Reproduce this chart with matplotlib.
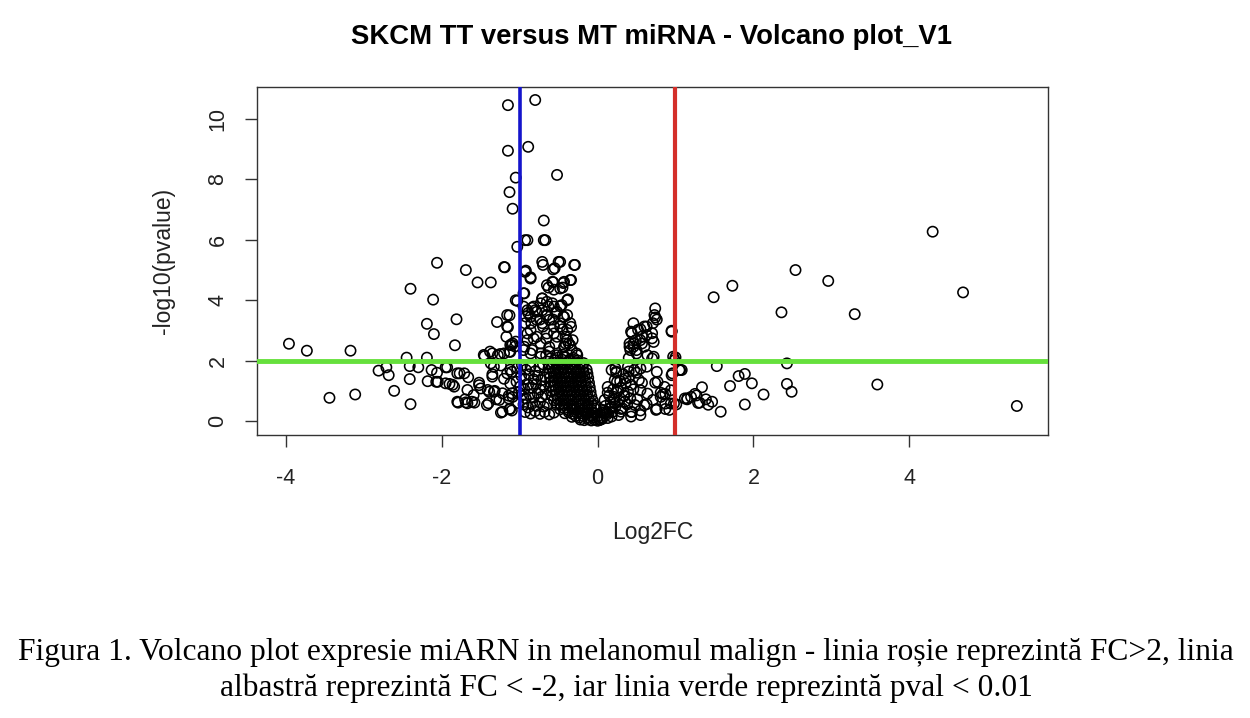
import numpy as np
import matplotlib
matplotlib.use("Agg")
import matplotlib.pyplot as plt

plt.rcParams['font.family'] = ['Liberation Sans', 'DejaVu Sans']
plt.rcParams['axes.unicode_minus'] = False

# points: (log2FC, -log10(pvalue))
far_left = [
    (-3.96, 2.56), (-3.73, 2.33), (-3.17, 2.33), (-3.44, 0.77), (-3.11, 0.88),
    (-2.81, 1.67), (-2.71, 1.78), (-2.68, 1.52), (-2.61, 1.00),
    (-2.45, 2.10), (-2.41, 1.82), (-2.41, 1.39), (-2.40, 0.56), (-2.40, 4.38),
    (-2.30, 1.78), (-2.19, 3.22), (-2.19, 2.10), (-2.18, 1.32), (-2.13, 1.69),
    (-2.11, 4.02), (-2.10, 2.88), (-2.07, 1.30), (-2.06, 5.24), (-2.06, 1.60),
    (-2.05, 1.30), (-1.95, 1.25), (-1.95, 1.78), (-1.93, 1.78), (-1.90, 1.23),
    (-1.86, 1.20), (-1.84, 1.14), (-1.83, 2.51), (-1.81, 3.37), (-1.80, 1.58),
    (-1.80, 0.64), (-1.79, 0.61), (-1.77, 1.58), (-1.71, 1.58), (-1.70, 0.72),
    (-1.69, 0.62), (-1.69, 5.00), (-1.67, 1.03), (-1.67, 0.59), (-1.66, 1.45),
    (-1.61, 0.64), (-1.59, 0.86), (-1.58, 0.61), (-1.54, 4.59), (-1.52, 1.27),
    (-1.52, 1.19), (-1.50, 1.08), (-1.46, 2.19), (-1.45, 2.15), (-1.42, 0.53),
    (-1.41, 1.03), (-1.40, 0.59), (-1.39, 0.97), (-1.38, 2.30), (-1.37, 4.59),
    (-1.37, 1.91), (-1.35, 1.55), (-1.35, 1.47), (-1.35, 2.24), (-1.33, 0.97),
    (-1.33, 1.80), (-1.32, 1.00), (-1.30, 0.72), (-1.29, 3.28), (-1.28, 2.18),
    (-1.26, 0.70), (-1.25, 2.22), (-1.24, 1.84), (-1.24, 0.28), (-1.22, 0.92),
    (-1.22, 0.31), (-1.20, 2.24), (-1.20, 1.40), (-1.20, 5.10), (-1.19, 5.09),
    (-1.17, 2.79), (-1.16, 1.58), (-1.16, 3.51), (-1.16, 3.13), (-1.15, 3.11),
    (-1.15, 10.46), (-1.15, 8.95), (-1.14, 0.84), (-1.14, 0.75), (-1.13, 7.58),
    (-1.13, 3.50), (-1.13, 0.40), (-1.13, 2.30), (-1.12, 1.70), (-1.12, 2.29),
    (-1.12, 1.24), (-1.12, 0.40), (-1.12, 2.52), (-1.10, 1.63), (-1.10, 0.92),
    (-1.10, 0.35), (-1.10, 2.52), (-1.09, 2.57), (-1.09, 0.80), (-1.09, 7.03),
    (-1.06, 2.47), (-1.05, 8.06), (-1.05, 2.63), (-1.05, 4.00), (-1.03, 5.77),
    (-1.03, 3.98), (-1.02, 0.60), (-1.04, 1.30), (-1.01, 0.95), (-1.03, 1.75),
]

upper_mid = [
    (-0.80, 10.63), (-0.89, 9.08), (-0.52, 8.15), (-0.69, 6.64), (-0.67, 5.99),
    (-0.93, 5.99), (-0.69, 5.99), (-0.71, 5.27), (-0.70, 5.17), (-0.50, 5.27),
    (-0.55, 5.06), (-0.30, 5.17), (-0.48, 5.27), (-0.57, 5.02), (-0.93, 4.94),
    (-0.86, 4.72), (-0.65, 4.50), (-0.58, 4.61), (-0.48, 4.39), (-0.44, 4.57),
    (-0.35, 4.67), (-0.43, 4.61), (-0.95, 4.23), (-0.71, 4.06), (-0.65, 3.95),
    (-0.56, 3.79), (-0.39, 4.00), (-0.63, 4.42), (-0.56, 4.35), (-0.45, 4.42),
    (-0.38, 4.03), (-0.90, 3.67), (-0.82, 3.79), (-0.92, 3.46), (-0.78, 3.62),
    (-0.71, 3.67), (-0.65, 3.51), (-0.52, 3.62), (-0.44, 3.46), (-0.85, 3.24),
    (-0.71, 3.24), (-0.56, 3.13), (-0.48, 3.24), (-0.39, 3.02), (-0.90, 2.90),
    (-0.78, 2.79), (-0.65, 2.90), (-0.52, 2.79), (-0.39, 2.68), (-0.35, 2.51),
    (-0.42, 2.46), (-0.95, 3.79), (-0.89, 3.58), (-0.84, 3.75), (-0.73, 3.90),
    (-0.63, 3.79), (-0.54, 3.58), (-0.46, 3.84), (-0.39, 3.51), (-0.35, 3.24),
    (-0.93, 3.24), (-0.86, 3.01), (-0.78, 3.35), (-0.70, 3.13), (-0.62, 3.35),
    (-0.56, 2.90), (-0.48, 3.13), (-0.41, 2.79), (-0.37, 2.57), (-0.43, 2.46),
    (-0.33, 2.35), (-0.90, 2.68), (-0.82, 2.73), (-0.73, 2.57), (-0.66, 2.73),
    (-0.62, 2.46), (-0.54, 2.57), (-0.27, 2.24), (-0.84, 2.35), (-0.73, 2.24),
    (-0.66, 2.18), (-0.52, 2.18), (-0.43, 2.13), (-0.95, 2.35), (-0.34, 3.12),
    (-0.45, 3.04), (-0.41, 2.57), (-0.32, 2.68), (-0.26, 2.18), (-0.86, 2.24),
    (-0.73, 2.13), (-0.62, 2.30), (-0.45, 2.20), (-0.94, 2.46), (-0.29, 5.17),
    (-0.86, 4.76), (-0.92, 4.98), (-0.80, 3.67), (-0.65, 3.50), (-0.57, 3.36),
    (-0.74, 3.36), (-0.86, 3.45), (-0.43, 3.45), (-0.58, 3.90), (-0.48, 3.80),
    (-0.94, 4.23), (-0.71, 4.06), (-0.34, 4.67), (-0.57, 4.60), (-0.90, 5.99),
]

between_blue_and_mass = [
    (-0.97, 1.85), (-0.92, 1.70), (-0.86, 1.80), (-0.80, 1.65), (-0.75, 1.78),
    (-0.70, 1.88), (-0.98, 1.50), (-0.93, 1.40), (-0.88, 1.55), (-0.82, 1.38),
    (-0.77, 1.50), (-0.72, 1.35), (-0.67, 1.45), (-0.99, 1.15), (-0.94, 1.05),
    (-0.89, 1.20), (-0.84, 1.10), (-0.79, 1.22), (-0.74, 1.05), (-0.69, 1.15),
    (-0.97, 0.85), (-0.92, 0.75), (-0.87, 0.88), (-0.82, 0.78), (-0.77, 0.92),
    (-0.72, 0.80), (-0.67, 0.88), (-0.95, 0.55), (-0.89, 0.45), (-0.84, 0.58),
    (-0.79, 0.50), (-0.74, 0.62), (-0.69, 0.48), (-0.64, 0.56), (-0.93, 0.30),
    (-0.86, 0.25), (-0.80, 0.33), (-0.74, 0.24), (-0.68, 0.30), (-0.62, 0.22),
    (-0.56, 0.28),
]

dense_mass = [
    (-0.60, 2.08), (-0.55, 2.02), (-0.51, 2.10), (-0.46, 2.04), (-0.41, 2.11),
    (-0.36, 2.03), (-0.31, 2.09), (-0.26, 2.01),
    (-0.62, 1.88), (-0.57, 1.93), (-0.52, 1.86), (-0.47, 1.92), (-0.43, 1.87),
    (-0.38, 1.94), (-0.33, 1.89), (-0.28, 1.95), (-0.23, 1.88), (-0.18, 1.92),
    (-0.63, 1.74), (-0.59, 1.78), (-0.54, 1.72), (-0.49, 1.77), (-0.44, 1.71),
    (-0.39, 1.76), (-0.34, 1.73), (-0.29, 1.79), (-0.24, 1.72), (-0.19, 1.76),
    (-0.14, 1.70),
    (-0.62, 1.58), (-0.57, 1.62), (-0.53, 1.57), (-0.48, 1.63), (-0.43, 1.59),
    (-0.38, 1.61), (-0.33, 1.56), (-0.28, 1.62), (-0.23, 1.58), (-0.18, 1.63),
    (-0.13, 1.57),
    (-0.61, 1.44), (-0.56, 1.47), (-0.52, 1.42), (-0.47, 1.48), (-0.42, 1.43),
    (-0.37, 1.46), (-0.32, 1.41), (-0.27, 1.47), (-0.22, 1.44), (-0.17, 1.49),
    (-0.12, 1.43),
    (-0.61, 1.29), (-0.56, 1.33), (-0.51, 1.27), (-0.46, 1.32), (-0.41, 1.28),
    (-0.36, 1.31), (-0.31, 1.26), (-0.26, 1.33), (-0.21, 1.29), (-0.16, 1.32),
    (-0.11, 1.27),
    (-0.60, 1.14), (-0.55, 1.18), (-0.50, 1.12), (-0.45, 1.17), (-0.40, 1.13),
    (-0.35, 1.16), (-0.30, 1.11), (-0.25, 1.18), (-0.20, 1.14), (-0.15, 1.17),
    (-0.10, 1.12),
    (-0.59, 0.99), (-0.54, 1.03), (-0.49, 0.97), (-0.44, 1.02), (-0.39, 0.98),
    (-0.34, 1.01), (-0.29, 0.96), (-0.24, 1.03), (-0.19, 0.99), (-0.14, 1.02),
    (-0.09, 0.97),
    (-0.58, 0.84), (-0.53, 0.88), (-0.48, 0.82), (-0.43, 0.87), (-0.38, 0.83),
    (-0.33, 0.86), (-0.28, 0.81), (-0.23, 0.88), (-0.18, 0.84), (-0.13, 0.87),
    (-0.08, 0.82),
    (-0.56, 0.69), (-0.51, 0.73), (-0.46, 0.67), (-0.41, 0.72), (-0.36, 0.68),
    (-0.31, 0.71), (-0.26, 0.66), (-0.21, 0.73), (-0.16, 0.69), (-0.11, 0.72),
    (-0.06, 0.67),
    (-0.53, 0.54), (-0.48, 0.58), (-0.43, 0.52), (-0.38, 0.57), (-0.33, 0.53),
    (-0.28, 0.56), (-0.23, 0.51), (-0.18, 0.58), (-0.13, 0.54), (-0.08, 0.57),
    (-0.04, 0.52),
    (-0.48, 0.39), (-0.43, 0.43), (-0.38, 0.37), (-0.33, 0.42), (-0.28, 0.38),
    (-0.23, 0.41), (-0.18, 0.36), (-0.13, 0.43), (-0.08, 0.39), (-0.04, 0.42),
    (-0.42, 0.26), (-0.37, 0.29), (-0.32, 0.24), (-0.27, 0.28), (-0.22, 0.25),
    (-0.17, 0.30), (-0.12, 0.26), (-0.07, 0.29), (-0.03, 0.24),
    (-0.33, 0.14), (-0.28, 0.17), (-0.23, 0.12), (-0.18, 0.16), (-0.13, 0.13),
    (-0.08, 0.17), (-0.04, 0.12), (0.00, 0.15),
    (-0.22, 0.05), (-0.17, 0.03), (-0.12, 0.06), (-0.08, 0.02), (-0.04, 0.05),
    (0.00, 0.01), (0.03, 0.04), (0.06, 0.07),
]

right_arm = [
    (0.74, 3.73), (0.74, 3.43), (0.76, 3.36), (0.46, 3.24), (0.55, 3.04),
    (0.63, 3.13), (0.70, 2.91), (0.57, 2.80), (0.44, 2.91), (0.46, 2.57),
    (0.57, 2.57), (0.41, 2.46), (0.50, 2.35), (0.72, 2.62), (0.72, 2.13),
    (0.95, 2.96), (0.40, 2.09), (0.97, 2.13), (0.95, 1.52), (1.06, 1.69),
    (0.73, 3.51), (0.71, 3.24), (0.43, 2.96), (0.52, 3.02), (0.60, 3.13),
    (0.63, 2.85), (0.49, 2.68), (0.55, 2.68), (0.70, 2.74), (0.41, 2.57),
    (0.46, 2.46), (0.60, 2.46), (0.42, 2.35), (0.50, 2.24), (0.64, 2.18),
    (0.70, 2.07), (0.99, 2.02), (0.96, 1.58), (1.08, 1.69),
    (0.18, 1.69), (0.24, 1.64), (0.39, 1.80), (0.47, 1.69), (0.55, 1.74),
    (0.22, 1.36), (0.36, 1.41), (0.53, 1.36), (0.76, 1.63), (0.77, 1.30),
    (0.86, 1.13), (0.94, 1.02), (0.13, 1.13), (0.26, 1.02), (0.39, 0.97),
    (0.55, 1.02), (0.64, 0.91), (0.71, 0.70), (0.81, 0.80), (0.87, 0.58),
    (0.98, 0.58), (1.12, 0.75), (1.20, 0.80), (0.09, 0.70), (0.22, 0.58),
    (0.35, 0.64), (0.48, 0.53), (0.60, 0.53), (0.75, 0.37), (0.92, 0.37),
    (0.11, 0.26), (0.30, 0.31), (0.43, 0.15), (0.55, 0.20), (0.03, 0.04),
    (0.23, 1.74), (0.24, 1.60), (0.40, 1.64), (0.50, 1.60), (0.63, 1.80),
    (0.29, 1.32), (0.43, 1.20), (0.57, 1.27), (0.74, 1.27), (0.81, 0.94),
    (0.87, 0.90), (0.94, 0.58), (1.15, 0.75), (1.27, 0.85), (1.29, 0.60),
    (0.13, 0.94), (0.21, 0.72), (0.34, 0.83), (0.51, 0.72), (0.63, 0.56),
    (0.76, 0.40), (0.87, 0.40), (0.17, 0.45), (0.30, 0.40), (0.43, 0.30),
    (0.55, 0.35), (0.10, 0.30), (0.06, 0.12),
    (0.05, 0.12), (0.08, 0.35), (0.10, 0.50), (0.12, 0.22), (0.15, 0.40),
    (0.17, 0.62), (0.19, 0.30), (0.21, 0.80), (0.23, 0.48), (0.25, 0.95),
    (0.27, 0.20), (0.28, 0.68), (0.30, 1.10), (0.32, 0.42), (0.34, 0.85),
    (0.36, 1.25), (0.38, 0.55), (0.40, 1.45), (0.42, 0.75), (0.44, 0.30),
    (0.46, 1.05), (0.20, 1.05), (0.15, 0.85), (0.25, 1.30), (0.33, 1.55),
    (0.06, 0.28), (0.13, 0.10), (0.18, 0.15),
]

far_right = [
    (4.30, 6.27), (2.54, 5.00), (1.73, 4.48), (1.49, 4.10), (2.96, 4.64),
    (4.69, 4.26), (2.36, 3.60), (3.30, 3.54), (0.95, 2.99), (1.00, 2.11),
    (1.53, 1.82), (2.43, 1.91), (1.05, 1.69), (1.81, 1.49), (1.89, 1.56),
    (1.98, 1.25), (1.70, 1.16), (2.43, 1.23), (2.49, 0.97), (2.13, 0.88),
    (3.59, 1.21), (5.38, 0.50), (1.34, 1.12), (1.25, 0.90), (1.15, 0.72),
    (1.31, 0.61), (1.39, 0.72), (1.47, 0.64), (1.42, 0.54), (1.58, 0.31),
    (1.89, 0.55), (0.84, 0.89), (1.01, 0.55),
]

fc_up, fc_down, p_cut = 1, -1, 2

groups = [far_left, upper_mid, between_blue_and_mass, dense_mass, right_arm, far_right]
pts = np.array([p for g in groups for p in g])

fig = plt.figure(figsize=(12.5, 7.18), dpi=100)
ax = fig.add_axes([0.2056, 0.3942, 0.6328, 0.4846])

ax.scatter(pts[:, 0], pts[:, 1], s=55, facecolors='none', edgecolors='black',
           linewidths=1.15, zorder=2)

ax.axvline(fc_down, color='#1414cc', lw=2.6, zorder=3)
ax.axvline(fc_up, color='#d42f2a', lw=3.0, zorder=3)
ax.axhline(p_cut, color='#66e03c', lw=3.5, zorder=3)

ax.set_xlim(-4.37, 5.78)
ax.set_ylim(-0.46, 11.06)
ax.set_xticks([-4, -2, 0, 2, 4])
ax.set_yticks([0, 2, 4, 6, 8, 10])
ax.tick_params(direction='out', length=8.5, width=1, color='#333333',
               labelsize=15.5, labelcolor='#222222', pad=15)
ax.tick_params(axis='y', labelrotation=90, pad=12)
for lab in ax.get_yticklabels():
    lab.set_va('center')
for s in ax.spines.values():
    s.set_color('#333333')
    s.set_linewidth(1)

ax.set_xlabel('Log2FC', fontsize=16.5, color='#222222')
ax.xaxis.set_label_coords(0.5, -0.247)
ax.set_ylabel('-log10(pvalue)', fontsize=16.5, color='#222222')
ax.yaxis.set_label_coords(-0.104, 0.5)

fig.text(0.5216, 0.948, 'SKCM TT versus MT miRNA - Volcano plot_V1',
         fontsize=19.8, fontweight='bold', ha='center', va='center')

fig.text(0.5008, 0.091,
         'Figura 1. Volcano plot expresie miARN in melanomul malign - linia roșie reprezintă FC>2, linia',
         fontsize=22.7, family=['Liberation Serif', 'DejaVu Serif'],
         ha='center', va='center')
fig.text(0.5008, 0.042,
         'albastră reprezintă FC < -2, iar linia verde reprezintă pval < 0.01',
         fontsize=22.7, family=['Liberation Serif', 'DejaVu Serif'],
         ha='center', va='center')

fig.savefig('out.png', dpi=100)
